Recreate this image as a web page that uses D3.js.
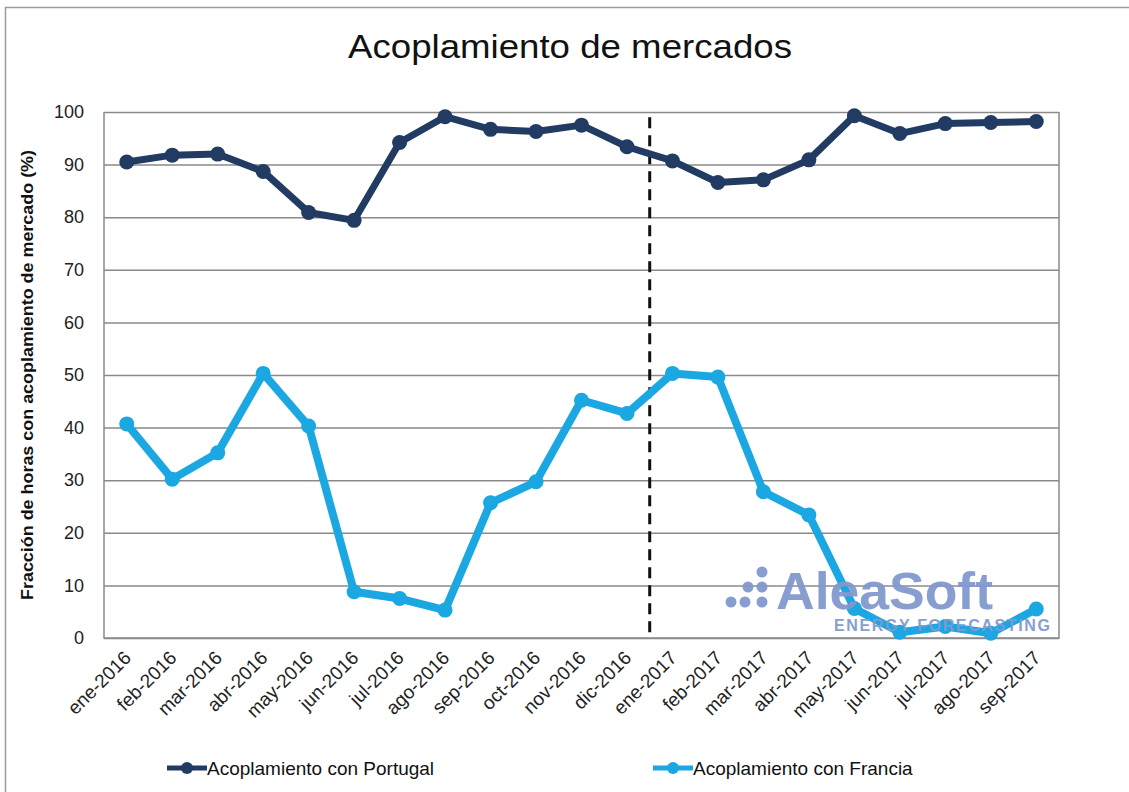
<!DOCTYPE html>
<html>
<head>
<meta charset="utf-8">
<script src="https://cdn.jsdelivr.net/npm/d3@7"></script>
<style>
  body { margin: 0; background: #fff; }
  svg { display: block; font-family: "Liberation Sans", Arial, sans-serif; }
</style>
</head>
<body>
<div id="chart"></div>
<script>
// data
var months = ["ene-2016", "feb-2016", "mar-2016", "abr-2016", "may-2016", "jun-2016",
  "jul-2016", "ago-2016", "sep-2016", "oct-2016", "nov-2016", "dic-2016",
  "ene-2017", "feb-2017", "mar-2017", "abr-2017", "may-2017", "jun-2017",
  "jul-2017", "ago-2017", "sep-2017"];
var portugal = [90.5, 91.8, 92.0, 88.7, 80.9, 79.4, 94.2, 99.1, 96.7, 96.3, 97.5, 93.4,
  90.7, 86.6, 87.1, 90.9, 99.3, 95.9, 97.8, 98.0, 98.2];
var francia = [40.7, 30.2, 35.2, 50.3, 40.3, 8.8, 7.5, 5.3, 25.7, 29.7, 45.2, 42.7,
  50.3, 49.6, 27.8, 23.4, 5.6, 1.1, 2.2, 0.9, 5.5];
var yTicks = [0, 10, 20, 30, 40, 50, 60, 70, 80, 90, 100];
var seriesNames = ["Acoplamiento con Portugal", "Acoplamiento con Francia"];
var splitAfter = "dic-2016";

var svgWidth = 1129, svgHeight = 792;
var margin = {top: 112, left: 104, right: 70, bottom: 154};
var width = svgWidth - margin.left - margin.right;
var height = svgHeight - margin.top - margin.bottom;

var colPortugal = "#213b62", colFrancia = "#1aa7e2";

var svg = d3.select("#chart").append("svg")
  .attr("width", svgWidth)
  .attr("height", svgHeight);

// outer frame
svg.append("rect")
  .attr("x", 5.5).attr("y", 7.5)
  .attr("width", svgWidth + 10).attr("height", svgHeight + 10)
  .attr("fill", "none").attr("stroke", "#9a9a9a").attr("stroke-width", 1.5);

// title
svg.append("text")
  .attr("x", 570).attr("y", 58)
  .attr("text-anchor", "middle")
  .attr("font-size", 34)
  .attr("textLength", 444).attr("lengthAdjust", "spacingAndGlyphs")
  .attr("fill", "#111")
  .text("Acoplamiento de mercados");

var g = svg.append("g").attr("transform", `translate(${margin.left},${margin.top})`);

var x = d3.scalePoint().domain(months).range([0, width]).padding(0.5);
var y = d3.scaleLinear().domain([0, 100]).range([height, 0]);

// gridlines
var yAxis = d3.axisLeft(y).tickValues(yTicks).tickSize(-width).tickPadding(20);
var yg = g.append("g").call(yAxis);
yg.select(".domain").remove();
yg.selectAll(".tick line").attr("stroke", "#8a8a8a").attr("stroke-width", 1.5);
yg.selectAll(".tick text").attr("font-size", 18).attr("fill", "#222")
  .attr("font-family", "Liberation Sans, Arial, sans-serif");

// plot border (left, right, bottom)
g.append("path")
  .attr("d", `M0,0V${height}H${width}V0`)
  .attr("fill", "none").attr("stroke", "#8a8a8a").attr("stroke-width", 1.5);

// x labels
var xAxis = d3.axisBottom(x).tickSize(0).tickPadding(0);
var xg = g.append("g").attr("transform", `translate(0,${height})`).call(xAxis);
xg.select(".domain").remove();
xg.selectAll(".tick text")
  .attr("font-size", 19).attr("fill", "#222")
  .attr("font-family", "Liberation Sans, Arial, sans-serif")
  .attr("text-anchor", "end")
  .attr("dy", null)
  .attr("transform", "translate(5,21) rotate(-45)");

// watermark
var wm = svg.append("g").attr("fill", "#8299cf").attr("opacity", 0.95);
var dots = [[762, 572], [748, 587], [762, 587], [731, 602], [745, 602], [762, 602]];
wm.selectAll("circle").data(dots).enter().append("circle")
  .attr("cx", d => d[0]).attr("cy", d => d[1]).attr("r", 5.5);
wm.append("text").attr("x", 776).attr("y", 609)
  .attr("font-size", 52).attr("font-weight", "bold")
  .attr("textLength", 217).attr("lengthAdjust", "spacingAndGlyphs")
  .text("AleaSoft");
wm.append("text").attr("x", 834).attr("y", 631)
  .attr("font-size", 16).attr("font-weight", "bold").attr("textLength", 216)
  .text("ENERGY FORECASTING");

// dashed separator
var xs = (x(splitAfter) + x(months[months.indexOf(splitAfter) + 1])) / 2;
g.append("line")
  .attr("x1", xs).attr("x2", xs)
  .attr("y1", y(99)).attr("y2", height)
  .attr("stroke", "#111").attr("stroke-width", 3)
  .attr("stroke-dasharray", "11,7");

// lines
var line = d3.line().x((d, i) => x(months[i])).y(d => y(d));

function drawSeries(vals, col, w) {
  g.append("path").datum(vals)
    .attr("fill", "none").attr("stroke", col)
    .attr("stroke-width", w).attr("stroke-linejoin", "round")
    .attr("d", line);
  g.append("g").selectAll("circle").data(vals).enter().append("circle")
    .attr("cx", (d, i) => x(months[i]))
    .attr("cy", d => y(d))
    .attr("r", 7.5)
    .attr("fill", col);
}
drawSeries(portugal, colPortugal, 7);
drawSeries(francia, colFrancia, 8);

// y label
svg.append("text")
  .attr("transform", "translate(33,375) rotate(-90)")
  .attr("text-anchor", "middle")
  .attr("font-size", 16).attr("font-weight", "bold")
  .attr("textLength", 450).attr("lengthAdjust", "spacingAndGlyphs")
  .attr("fill", "#111")
  .text("Fracción de horas con acoplamiento de mercado (%)");

// legend
var legend = [
  {name: seriesNames[0], col: colPortugal, x: 167},
  {name: seriesNames[1], col: colFrancia, x: 653}
];
var lg = svg.append("g").selectAll("g").data(legend).enter().append("g")
  .attr("transform", d => `translate(${d.x},768)`);
lg.append("line").attr("x1", 0).attr("x2", 40)
  .attr("stroke", d => d.col).attr("stroke-width", 5);
lg.append("circle").attr("cx", 20).attr("r", 6).attr("fill", d => d.col);
lg.append("text").attr("x", 40).attr("y", 7)
  .attr("font-size", 19).attr("fill", "#111")
  .text(d => d.name);
</script>
</body>
</html>
